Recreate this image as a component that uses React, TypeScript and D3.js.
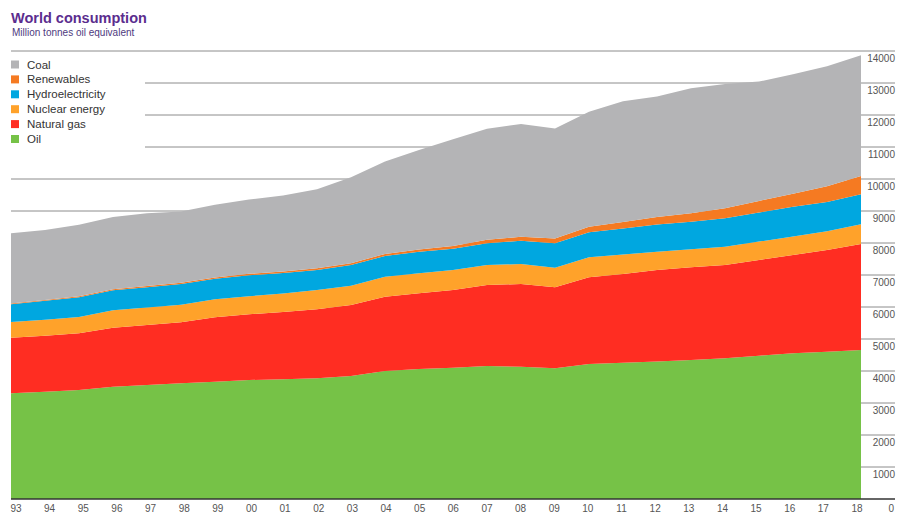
import { useEffect, useRef } from "react";
import * as d3 from "d3";

const years = [
  1993, 1994, 1995, 1996, 1997, 1998, 1999, 2000, 2001, 2002, 2003, 2004, 2005,
  2006, 2007, 2008, 2009, 2010, 2011, 2012, 2013, 2014, 2015, 2016, 2017, 2018,
];

// Million tonnes oil equivalent
const oil = [
  3303, 3353, 3406, 3509, 3563, 3616, 3666, 3719, 3741, 3772, 3844, 4000, 4063,
  4103, 4156, 4134, 4084, 4219, 4259, 4297, 4344, 4397, 4478, 4553, 4603, 4656,
];
const naturalGas = [
  1738, 1750, 1772, 1844, 1875, 1906, 2013, 2053, 2103, 2156, 2219, 2322, 2366,
  2428, 2531, 2584, 2531, 2709, 2772, 2859, 2897, 2916, 2991, 3072, 3178, 3313,
];
const nuclear = [
  490, 495, 510, 545, 550, 550, 565, 565, 575, 600, 600, 625, 625,
  625, 625, 625, 613, 625, 610, 570, 563, 572, 575, 580, 585, 620,
];
const hydro = [
  553, 594, 620, 625, 630, 650, 640, 656, 647, 630, 647, 650, 675,
  666, 678, 728, 763, 781, 813, 850, 863, 888, 906, 925, 915, 938,
];
const renewables = [
  28, 30, 31, 33, 35, 37, 40, 43, 45, 50, 54, 62, 70,
  84, 110, 125, 150, 175, 206, 234, 263, 313, 366, 410, 490, 563,
];
const coal = [
  2191, 2188, 2228, 2259, 2278, 2222, 2272, 2322, 2372, 2472, 2688, 2884, 3109,
  3334, 3469, 3522, 3438, 3594, 3772, 3766, 3906, 3884, 3728, 3730, 3750, 3781,
];

const yTicks = [
  1000, 2000, 3000, 4000, 5000, 6000, 7000, 8000, 9000, 10000, 11000, 12000,
  13000, 14000,
];

const seriesKeys = ["oil", "gas", "nuclear", "hydro", "renewables", "coal"];
const seriesColors: Record<string, string> = {
  oil: "#76c247",
  gas: "#ff2d22",
  nuclear: "#ffa22a",
  hydro: "#00a7e0",
  renewables: "#f57a22",
  coal: "#b4b4b6",
};

// legend is listed top-down
const legendItems = [
  { key: "coal", label: "Coal" },
  { key: "renewables", label: "Renewables" },
  { key: "hydro", label: "Hydroelectricity" },
  { key: "nuclear", label: "Nuclear energy" },
  { key: "gas", label: "Natural gas" },
  { key: "oil", label: "Oil" },
];

const FONT = "'Liberation Sans', Arial, Helvetica, sans-serif";

export default function App() {
  const svgRef = useRef<SVGSVGElement>(null);

  useEffect(() => {
    if (!svgRef.current) return;
    const svg = d3.select(svgRef.current);
    svg.selectAll("*").remove();

    const rows = years.map((year, i) => ({
      year,
      oil: oil[i],
      gas: naturalGas[i],
      nuclear: nuclear[i],
      hydro: hydro[i],
      renewables: renewables[i],
      coal: coal[i],
    }));

    const x = d3.scaleLinear().domain([1993, 2018]).range([11, 861]);
    const xLabel = d3.scaleLinear().domain([1993, 2018]).range([16, 857]);
    const y = d3.scaleLinear().domain([0, 14000]).range([499, 51]);
    const axisRight = 895;

    // gridlines sit behind the areas
    svg
      .append("g")
      .selectAll("line")
      .data(yTicks)
      .enter()
      .append("line")
      .attr("x1", (d) => (d >= 11000 && d <= 13000 ? 145 : 11))
      .attr("x2", axisRight)
      .attr("y1", (d) => y(d))
      .attr("y2", (d) => y(d))
      .attr("stroke", "#8c8c8c")
      .attr("stroke-width", 1);

    const stack = d3.stack<any>().keys(seriesKeys);
    const layers = stack(rows);

    const area = d3
      .area<any>()
      .x((d) => x(d.data.year))
      .y0((d) => y(d[0]))
      .y1((d) => y(d[1]));

    svg
      .append("g")
      .selectAll("path")
      .data(layers)
      .enter()
      .append("path")
      .attr("d", area)
      .attr("fill", (d) => seriesColors[d.key]);

    // baseline
    svg
      .append("line")
      .attr("x1", 11)
      .attr("x2", axisRight)
      .attr("y1", y(0))
      .attr("y2", y(0))
      .attr("stroke", "#333")
      .attr("stroke-width", 1.5);

    // right value labels
    svg
      .append("g")
      .selectAll("text")
      .data(yTicks)
      .enter()
      .append("text")
      .attr("x", axisRight)
      .attr("y", (d) => y(d) + 11)
      .attr("text-anchor", "end")
      .style("font-family", FONT)
      .style("font-size", "10px")
      .style("fill", "#555")
      .text((d) => String(d));

    svg
      .append("text")
      .attr("x", axisRight - 1)
      .attr("y", 512)
      .attr("text-anchor", "end")
      .style("font-family", FONT)
      .style("font-size", "10px")
      .style("fill", "#555")
      .text("0");

    // year labels
    svg
      .append("g")
      .selectAll("text")
      .data(years)
      .enter()
      .append("text")
      .attr("x", (d) => xLabel(d))
      .attr("y", 512)
      .attr("text-anchor", "middle")
      .style("font-family", FONT)
      .style("font-size", "10px")
      .style("fill", "#555")
      .text((d) => String(d % 100).padStart(2, "0"));

    // title
    svg
      .append("text")
      .attr("x", 11)
      .attr("y", 23)
      .style("font-family", FONT)
      .style("font-size", "14.5px")
      .style("font-weight", "bold")
      .style("fill", "#5b2d8e")
      .text("World consumption");

    svg
      .append("text")
      .attr("x", 12)
      .attr("y", 36)
      .style("font-family", FONT)
      .style("font-size", "10px")
      .style("fill", "#4e3a7e")
      .text("Million tonnes oil equivalent");

    // legend
    const legend = svg.append("g");
    legendItems.forEach((item, i) => {
      const row = legend
        .append("g")
        .attr("transform", `translate(11, ${60.5 + i * 14.9})`);
      row
        .append("rect")
        .attr("width", 8)
        .attr("height", 8)
        .attr("fill", seriesColors[item.key]);
      row
        .append("text")
        .attr("x", 16)
        .attr("y", 8)
        .style("font-family", FONT)
        .style("font-size", "11.5px")
        .style("fill", "#333")
        .text(item.label);
    });
  }, []);

  return (
    <svg
      ref={svgRef}
      width={906}
      height={521}
      style={{ position: "absolute", left: 0, top: 0, background: "#fff" }}
    ></svg>
  );
}
